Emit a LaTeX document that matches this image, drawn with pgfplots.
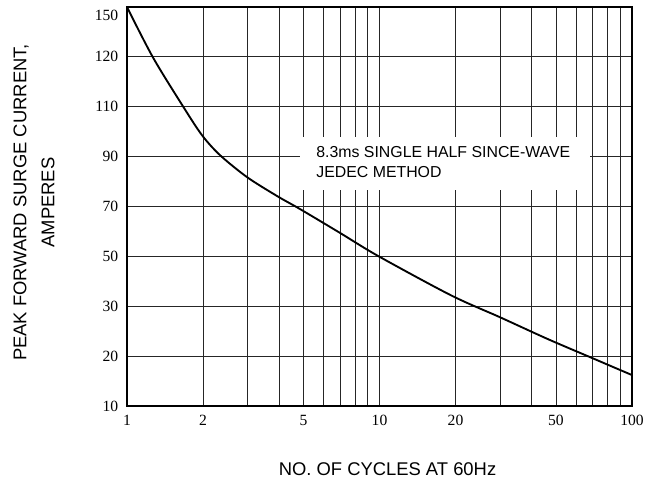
\documentclass[border=0pt]{standalone}
\usepackage{fontspec}
\setmainfont{Liberation Serif}
\newfontfamily\arial{Liberation Sans}
\usepackage{pgfplots}
\pgfplotsset{compat=1.18}

% y axis is drawn on equal steps: 10,20,30,50,70,90,110,120,150 -> 0..8
\begin{document}
\begin{tikzpicture}
\begin{axis}[
  at={(0,0)}, anchor=south west,
  scale only axis,
  width=378.75pt, height=299.25pt,
  xmode=log,
  xmin=1, xmax=100,
  ymin=0, ymax=8,
  xtick={1,2,5,10,20,50,100},
  xticklabels={1,2,5,10,20,50,100},
  minor xtick={3,4,6,7,8,9,30,40,60,70,80,90},
  ytick={0,1,2,3,4,5,6,7,8},
  yticklabels={10,20,30,50,70,90,110,120,\raisebox{-10pt}[0pt][0pt]{150}},
  major tick length=0pt, minor tick length=0pt,
  grid=both,
  major grid style={black!85, line width=0.7pt},
  minor grid style={black!85, line width=0.7pt},
  axis line style={black, line width=0.9pt},
  /pgf/number format/assume math mode=true,
  tick label style={font=\fontsize{11.7}{13}\selectfont},
  yticklabel style={xshift=-3pt},
  xticklabel style={yshift=-3.6pt},
  xlabel={NO. OF CYCLES AT 60Hz},
  xlabel style={at={(axis description cs:0.5,0)}, anchor=center,
    yshift=-47pt, xshift=6pt, font=\arial\fontsize{13.8}{21}\selectfont},
  ylabel={PEAK FORWARD SURGE CURRENT,\\AMPERES},
  ylabel style={at={(axis description cs:-0.184,0.51)}, anchor=center,
    align=center, font=\arial\fontsize{13.8}{21}\selectfont},
]
\fill[white] (axis cs:4.84,5.39) rectangle (axis cs:68.2,4.33);
\node[anchor=north west, inner sep=0pt, align=left,
  font=\arial\fontsize{11.9}{15}\selectfont] at (axis cs:5.61,5.21)
  {8.3ms SINGLE HALF SINCE-WAVE\\JEDEC METHOD};
\addplot[black, line width=1.4pt, smooth, tension=0.5] coordinates {
  (1,8.0) (1.267,6.99) (1.666,6.01) (1.982,5.43) (2.335,5.03) (2.987,4.59)
  (3.93,4.21) (4.84,3.95) (6.98,3.47) (9.86,3.01) (19.19,2.22) (30.0,1.78)
  (46.5,1.34) (68.2,0.98) (100,0.62)
};
\end{axis}
\path (-95.25pt,-57.75pt) rectangle (395.25pt,304.5pt);
\end{tikzpicture}
\end{document}
